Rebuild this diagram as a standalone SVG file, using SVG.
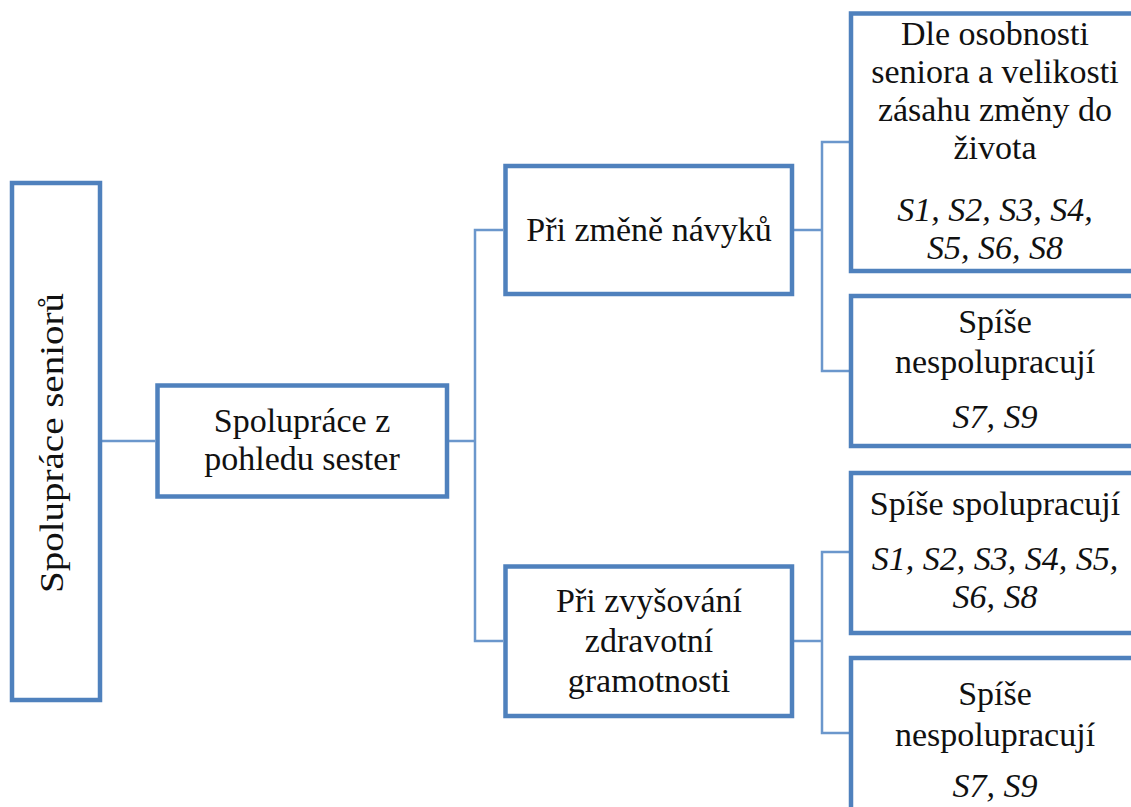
<svg xmlns="http://www.w3.org/2000/svg" width="1131" height="807" viewBox="0 0 1131 807">
  <style>
    .box { fill: #ffffff; stroke: #4f81bd; stroke-width: 4.5; }
    .link { fill: none; stroke: #6b97cc; stroke-width: 2.5; }
    .t { font-family: "Liberation Serif", "Times New Roman", serif; font-size: 34px; fill: #111111; text-anchor: middle; }
    .i { font-style: italic; }
  </style>
  <rect width="1131" height="807" fill="#ffffff"/>

  <!-- connectors -->
  <g id="connectors">
    <path class="link" d="M102 441 H155"/>
    <path class="link" d="M449 441 H475"/>
    <path class="link" d="M503 230 H475 V641 H503"/>
    <path class="link" d="M794 230 H822"/>
    <path class="link" d="M849 142 H822 V371 H849"/>
    <path class="link" d="M794 641 H822"/>
    <path class="link" d="M849 552 H822 V733 H849"/>
  </g>

  <!-- root -->
  <g id="n1">
    <rect class="box" x="12" y="183" width="88" height="517"/>
    <text class="t" x="63" y="443" transform="rotate(-90 63 443)" textLength="300" lengthAdjust="spacingAndGlyphs">Spolupráce seniorů</text>
  </g>

  <g id="n2">
    <rect class="box" x="157.5" y="385.5" width="289.5" height="111"/>
    <text class="t" x="302" y="432">Spolupráce z</text>
    <text class="t" x="302" y="470">pohledu sester</text>
  </g>

  <g id="n3">
    <rect class="box" x="505.5" y="166" width="286.5" height="128"/>
    <text class="t" x="649" y="241">Při změně návyků</text>
  </g>

  <g id="n4">
    <rect class="box" x="505.5" y="566.5" width="286.5" height="149.5"/>
    <text class="t" x="649" y="612">Při zvyšování</text>
    <text class="t" x="649" y="652">zdravotní</text>
    <text class="t" x="649" y="692">gramotnosti</text>
  </g>

  <g id="n5">
    <rect class="box" x="851" y="13.5" width="288" height="257.5"/>
    <text class="t" x="995" y="45">Dle osobnosti</text>
    <text class="t" x="995" y="83">seniora a velikosti</text>
    <text class="t" x="995" y="121">zásahu změny do</text>
    <text class="t" x="995" y="159">života</text>
    <text class="t i" x="995" y="221">S1, S2, S3, S4,</text>
    <text class="t i" x="995" y="259">S5, S6, S8</text>
  </g>

  <g id="n6">
    <rect class="box" x="851" y="296" width="288" height="150"/>
    <text class="t" x="995" y="333">Spíše</text>
    <text class="t" x="995" y="373">nespolupracují</text>
    <text class="t i" x="995" y="428">S7, S9</text>
  </g>

  <g id="n7">
    <rect class="box" x="851" y="473" width="288" height="160"/>
    <text class="t" x="995" y="515">Spíše spolupracují</text>
    <text class="t i" x="995" y="570">S1, S2, S3, S4, S5,</text>
    <text class="t i" x="995" y="608">S6, S8</text>
  </g>

  <g id="n8">
    <rect class="box" x="851" y="658" width="288" height="152"/>
    <text class="t" x="995" y="705">Spíše</text>
    <text class="t" x="995" y="746">nespolupracují</text>
    <text class="t i" x="995" y="797">S7, S9</text>
  </g>
</svg>
